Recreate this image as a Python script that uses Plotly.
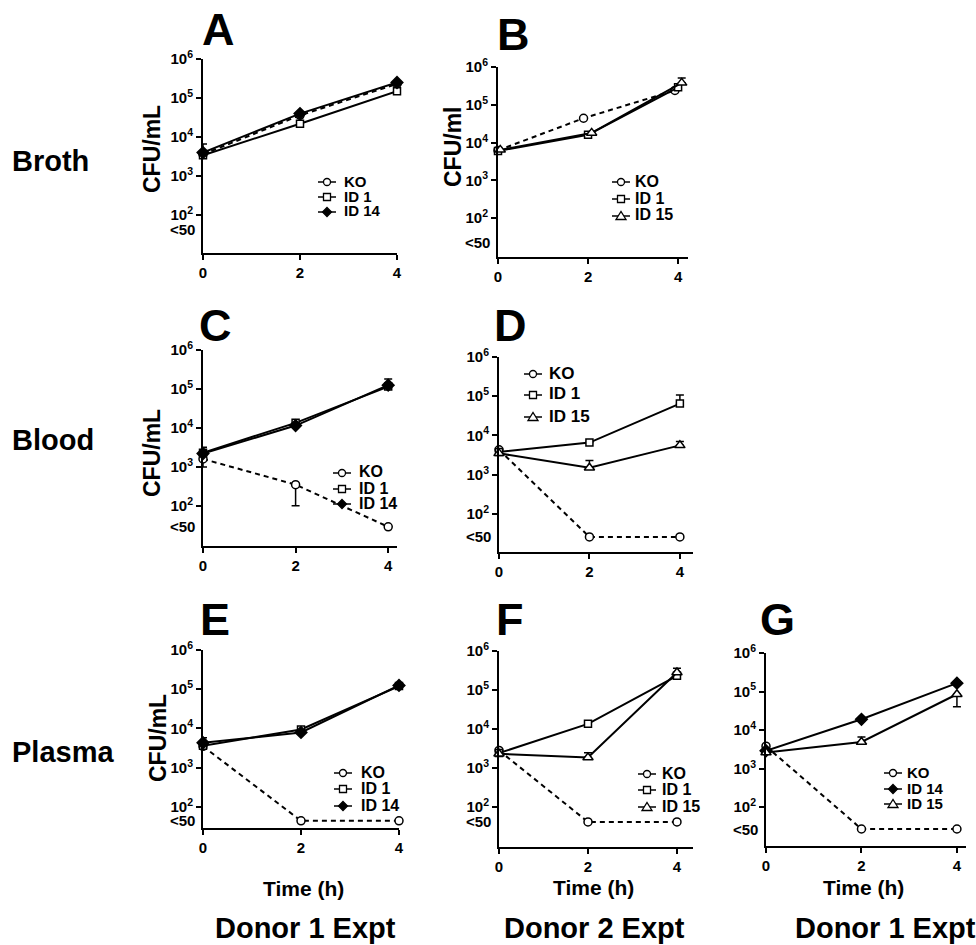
import plotly.graph_objects as go
import math

FONT = "Liberation Sans, Arial, Helvetica, sans-serif"
W, H = 976, 945

times = [0, 2, 4]

# ---- Panel A: Broth, Donor 1 ----
A_KO = [3.6e3, 3.6e4, 2.3e5]
A_KO_err = [3.0e3, 0, 0]
A_ID1 = [3.4e3, 2.2e4, 1.5e5]
A_ID14 = [4.0e3, 4.0e4, 2.5e5]

# ---- Panel B: Broth, Donor 2 ----
B_KO_t = [0, 1.9, 3.93]
B_KO = [6.2e3, 4.4e4, 2.4e5]
B_ID1_t = [0, 2.0, 4.0]
B_ID1 = [6.0e3, 1.6e4, 2.9e5]
B_ID15_t = [0.05, 2.08, 4.08]
B_ID15 = [6.4e3, 1.8e4, 3.8e5]
B_ID15_err = [0, 0, 1.3e5]

# ---- Panel C: Blood, Donor 1 ----
C_LOD = 29
C_KO = [1.6e3, 3.5e2, C_LOD]
C_KO_err_up = [1.0e3, 0, 0]
C_KO_err_dn = [0.6e3, 2.5e2, 0]
C_ID1 = [2.3e3, 1.35e4, 1.15e5]
C_ID1_err = [0.9e3, 0, 0.65e5]
C_ID14 = [2.2e3, 1.15e4, 1.25e5]

# ---- Panel D: Blood, Donor 2 ----
D_LOD = 26
D_KO = [4.3e3, D_LOD, D_LOD]
D_ID1 = [3.8e3, 6.6e3, 6.5e4]
D_ID1_err = [0, 0, 4.2e4]
D_ID15 = [3.5e3, 1.5e3, 5.6e3]
D_ID15_err = [0, 0.8e3, 1.4e3]

# ---- Panel E: Plasma, Donor 1 ----
E_LOD = 44
E_KO = [3.5e3, E_LOD, E_LOD]
E_ID1 = [3.6e3, 9.4e3, 1.2e5]
E_ID14 = [4.3e3, 7.9e3, 1.25e5]
E_ID14_err = [1.5e3, 0, 0]

# ---- Panel F: Plasma, Donor 2 ----
F_LOD = 41
F_KO = [2.8e3, F_LOD, F_LOD]
F_ID1 = [2.4e3, 1.35e4, 2.3e5]
F_ID15 = [2.3e3, 1.85e3, 2.8e5]
F_ID15_err = [0, 0.6e3, 0.8e5]

# ---- Panel G: Plasma, Donor 1 ----
G_LOD = 27
G_KO = [3.8e3, G_LOD, G_LOD]
G_ID14 = [2.9e3, 1.9e4, 1.65e5]
G_ID15 = [2.6e3, 4.9e3, 8.5e4]
G_ID15_err_up = [0, 1.7e3, 0]
G_ID15_err_dn = [0, 0, 4.5e4]

y_tickvals = [1e2, 1e3, 1e4, 1e5, 1e6]
y_ticktext = ["10<sup>2</sup>", "10<sup>3</sup>", "10<sup>4</sup>", "10<sup>5</sup>", "10<sup>6</sup>"]
x_tickvals = [0, 2, 4]
x_ticktext = ["0", "2", "4"]

zeros = [0, 0, 0]

# Panel layout (pixel boxes: left, right, top, bottom)
panels = [
    dict(letter="A", box=(203, 397, 59, 253), xmax=4.0, ymin=1.03, lodlabel=44,
         legend=(327, 342, [182, 197, 212], 15), letterpos=(218, 33), ytitle=("CFU/mL", 152, 149), xtitle=None),
    dict(letter="B", box=(498, 688, 67, 257), xmax=4.22, ymin=0.97, lodlabel=23,
         legend=(621, 633, [182, 199, 216], 16), letterpos=(513, 37), ytitle=("CFU/ml", 453, 147), xtitle=None),
    dict(letter="C", box=(203, 397, 350, 546), xmax=4.19, ymin=0.97, lodlabel=C_LOD,
         legend=(342, 357, [473, 489, 504], 16), letterpos=(215, 328), ytitle=("CFU/mL", 152, 453), xtitle=None),
    dict(letter="D", box=(499, 693, 357, 552), xmax=4.29, ymin=1.03, lodlabel=D_LOD,
         legend=(533, 547, [374, 395, 417], 17), letterpos=(510, 328), ytitle=None, xtitle=None),
    dict(letter="E", box=(203, 399, 650, 828), xmax=4.0, ymin=1.46, lodlabel=E_LOD,
         legend=(343, 359, [773, 789, 806], 16), letterpos=(215, 622), ytitle=("CFU/mL", 158, 738), xtitle=(303, 888)),
    dict(letter="F", box=(499, 693, 651, 847), xmax=4.36, ymin=0.97, lodlabel=F_LOD,
         legend=(647, 660, [774, 790, 807], 16), letterpos=(510, 622), ytitle=None, xtitle=(593, 887)),
    dict(letter="G", box=(766, 966, 653, 846), xmax=4.19, ymin=0.99, lodlabel=G_LOD,
         legend=(893, 905, [773, 789, 804], 15), letterpos=(777, 622), ytitle=None, xtitle=(863, 887)),
]

styles = {
    "KO": dict(symbol="circle", size=8, color="white", dash="5px,4px"),
    "ID 1": dict(symbol="square", size=7, color="white", dash="solid"),
    "ID 14": dict(symbol="diamond", size=9, color="black", dash="solid"),
    "ID 15": dict(symbol="triangle-up", size=9, color="white", dash="solid"),
}

# legend sample glyphs (pixel offsets around the symbol centre)
legend_glyph = {
    "KO": dict(type="circle", x0=-3.5, x1=3.5, y0=-3.5, y1=3.5, fillcolor="white"),
    "ID 1": dict(type="rect", x0=-3.5, x1=3.5, y0=-3.5, y1=3.5, fillcolor="white"),
    "ID 14": dict(type="path", path="M 0,4.5 L 4.5,0 L 0,-4.5 L -4.5,0 Z", fillcolor="black"),
    "ID 15": dict(type="path", path="M -5,-3.5 L 5,-3.5 L 0,4.5 Z", fillcolor="white"),
}

# series per panel: (name, x, y, err_up, err_dn)
series = [
    [("KO", times, A_KO, A_KO_err, zeros), ("ID 1", times, A_ID1, zeros, zeros), ("ID 14", times, A_ID14, zeros, zeros)],
    [("KO", B_KO_t, B_KO, zeros, zeros), ("ID 1", B_ID1_t, B_ID1, zeros, zeros), ("ID 15", B_ID15_t, B_ID15, B_ID15_err, zeros)],
    [("KO", times, C_KO, C_KO_err_up, C_KO_err_dn), ("ID 1", times, C_ID1, C_ID1_err, zeros), ("ID 14", times, C_ID14, zeros, zeros)],
    [("KO", times, D_KO, zeros, zeros), ("ID 1", times, D_ID1, D_ID1_err, zeros), ("ID 15", times, D_ID15, D_ID15_err, zeros)],
    [("KO", times, E_KO, zeros, zeros), ("ID 1", times, E_ID1, zeros, zeros), ("ID 14", times, E_ID14, E_ID14_err, zeros)],
    [("KO", times, F_KO, zeros, zeros), ("ID 1", times, F_ID1, zeros, zeros), ("ID 15", times, F_ID15, F_ID15_err, zeros)],
    [("KO", times, G_KO, zeros, zeros), ("ID 14", times, G_ID14, zeros, zeros), ("ID 15", times, G_ID15, G_ID15_err_up, G_ID15_err_dn)],
]

fig = go.Figure()
annotations = []
shapes = []
layout = dict(width=W, height=H, margin=dict(l=0, r=0, t=0, b=0, pad=0, autoexpand=False),
              paper_bgcolor="white", plot_bgcolor="white", template="none",
              font=dict(family=FONT, color="black"), showlegend=False)

for i, p in enumerate(panels):
    n = i + 1
    sfx = "" if n == 1 else str(n)
    xa, ya = "x" + sfx, "y" + sfx
    l, r, t, b = p["box"]
    layout["xaxis" + sfx] = dict(
        domain=[l / W, r / W], range=[0, p["xmax"]], anchor=ya, automargin=False,
        showline=True, linewidth=2, linecolor="black", ticks="outside", ticklen=5, tickwidth=2,
        tickcolor="black",
        tickvals=x_tickvals, ticktext=x_ticktext, showgrid=False, zeroline=False,
        tickfont=dict(size=15, family=FONT, weight="bold", color="black"))
    layout["yaxis" + sfx] = dict(
        domain=[1 - b / H, 1 - t / H], type="log", range=[p["ymin"], 6], anchor=xa, automargin=False,
        showline=True, linewidth=2, linecolor="black", ticks="outside", ticklen=5, tickwidth=2,
        tickcolor="black",
        tickvals=y_tickvals, ticktext=y_ticktext, showgrid=False, zeroline=False,
        tickfont=dict(size=15, family=FONT, weight="bold", color="black"))
    for (name, xs, ys, eu, ed) in series[i]:
        st = styles[name]
        has_err = any(v > 0 for v in eu) or any(v > 0 for v in ed)
        fig.add_trace(go.Scatter(
            x=xs, y=ys, name=name, mode="lines+markers", xaxis=xa, yaxis=ya,
            cliponaxis=False,
            line=dict(color="black", width=2, dash=st["dash"]),
            marker=dict(symbol=st["symbol"], size=st["size"], color=st["color"],
                        line=dict(color="black", width=1.5)),
            error_y=dict(type="data", symmetric=False, array=eu, arrayminus=ed,
                         color="black", thickness=1.5, width=4, visible=has_err),
        ))
    # manual legend
    sx, tx_, rows, lfs = p["legend"]
    for (name, *_), ry in zip(series[i], rows):
        yy = 1 - ry / H
        shapes.append(dict(type="line", xref="paper", yref="paper", xsizemode="pixel",
                           xanchor=sx / W, x0=-9, x1=9, y0=yy, y1=yy,
                           line=dict(color="black", width=1.5)))
        g = dict(legend_glyph[name])
        g.update(xref="paper", yref="paper", xsizemode="pixel", ysizemode="pixel",
                 xanchor=sx / W, yanchor=yy, line=dict(color="black", width=1.3))
        shapes.append(g)
        annotations.append(dict(x=tx_ / W, y=yy, xref="paper", yref="paper", text="<b>%s</b>" % name,
                                showarrow=False, xanchor="left", yanchor="middle", yshift=1,
                                font=dict(size=lfs, family=FONT, color="black")))
    # panel letter
    px_, py_ = p["letterpos"]
    annotations.append(dict(x=px_ / W, y=1 - py_ / H, xref="paper", yref="paper", text="<b>%s</b>" % p["letter"],
                            showarrow=False, font=dict(size=45, family=FONT, color="black"),
                            xanchor="center", yanchor="middle", yshift=3))
    # <50 label
    annotations.append(dict(x=0, y=math.log10(p["lodlabel"]), xref=xa + " domain", yref=ya, text="<b><50</b>",
                            showarrow=False, xanchor="right", yanchor="middle", xshift=-6,
                            font=dict(size=15, family=FONT, color="black")))
    if p["ytitle"]:
        txt, tx, ty = p["ytitle"]
        annotations.append(dict(x=tx / W, y=1 - ty / H, xref="paper", yref="paper", text="<b>%s</b>" % txt,
                                textangle=-90, showarrow=False, xanchor="center", yanchor="middle",
                                font=dict(size=23, family=FONT, color="black")))
    if p["xtitle"]:
        tx, ty = p["xtitle"]
        annotations.append(dict(x=tx / W, y=1 - ty / H, xref="paper", yref="paper", text="<b>Time (h)</b>",
                                showarrow=False, xanchor="center", yanchor="middle",
                                font=dict(size=21, family=FONT, color="black")))

row_labels = [("Broth", 161), ("Blood", 440), ("Plasma", 752)]
for txt, y in row_labels:
    annotations.append(dict(x=10 / W, y=1 - y / H, xref="paper", yref="paper", text="<b>%s</b>" % txt,
                            showarrow=False, xanchor="left", yanchor="middle",
                            font=dict(size=29, family=FONT, color="black")))

donor_labels = [("Donor 1 Expt", 305, "center"), ("Donor 2 Expt", 594, "center"), ("Donor 1 Expt", 793, "left")]
for txt, x, anc in donor_labels:
    annotations.append(dict(x=x / W, y=1 - 928 / H, xref="paper", yref="paper", text="<b>%s</b>" % txt,
                            showarrow=False, xanchor=anc, yanchor="middle",
                            font=dict(size=29, family=FONT, color="black")))

layout["annotations"] = annotations
layout["shapes"] = shapes
fig.update_layout(**layout)
fig.write_html("out.html", config={"displayModeBar": False},
               post_script="document.body.style.margin='0';document.body.style.padding='0';"
                           "document.documentElement.style.overflow='hidden';")
